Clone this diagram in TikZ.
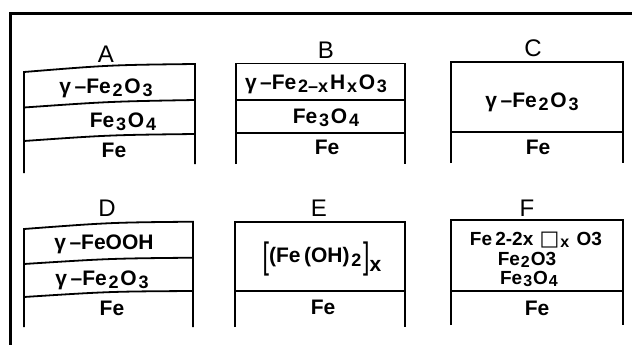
\documentclass[tikz,border=0pt]{standalone}
\usepackage{fontspec}
\setmainfont{Liberation Sans}
\newfontfamily\dejavu{DejaVu Sans}
\usepackage{graphicx}
\newcommand{\lsub}[1]{\hspace{1.8pt}\raisebox{-3.5pt}{\fontsize{18}{18}\selectfont #1}\hspace{1.8pt}}
\newcommand{\fsub}[1]{\hspace{1pt}\raisebox{-2pt}{\fontsize{16}{16}\selectfont #1}\hspace{1pt}}
\newcommand{\lbrk}[1]{\raisebox{-6pt}{\scalebox{1.1}[1.75]{\mdseries #1}}}
\tikzset{
  lab/.style={font=\fontsize{24}{24}\selectfont, inner sep=0pt},
  layer/.style={font=\bfseries\fontsize{21}{21}\selectfont, inner sep=0pt},
  flayer/.style={font=\bfseries\fontsize{19}{19}\selectfont, inner sep=0pt},
  wall/.style={line width=1.8pt},
  frame/.style={line width=2.2pt},
}
\begin{document}
\begin{tikzpicture}[x=1pt,y=-1pt]
\useasboundingbox (0,0) rectangle (632,345);
% outer frame
\coordinate (fr1) at (632,13.5);
\coordinate (fr2) at (10.5,13.5);
\coordinate (fr3) at (10.5,345);
\draw[frame] (fr1) -- (fr2) -- (fr3);

% ---- Panel A
\draw[wall] (24,173) -- (24,72) .. controls (110,65) .. (195,64) -- (195,164);
\draw[wall] (24,107.5) .. controls (110,101.5) .. (195,100);
\draw[wall] (24,141) .. controls (110,135) .. (195,134);
\node[lab] (labA) at (106,54) {A};
\node[layer] (a1) at (106,88) {γ\,–Fe\lsub{2}O\lsub{3}};
\node[layer] (a2) at (123,122) {Fe\lsub{3}O\lsub{4}};
\node[layer] (a3) at (114,150) {Fe};

% ---- Panel B
\draw[wall] (236,164) -- (236,63.5) -- (405,63.5) -- (405,164);
\draw[wall] (236,100) -- (405,100);
\draw[wall] (236,133) -- (405,133);
\node[lab] (labB) at (326,50) {B};
\node[layer] (b1) at (316,84) {γ\,–Fe\lsub{2–x}H\lsub{x}O\lsub{3}};
\node[layer] (b2) at (326,118) {Fe\lsub{3}O\lsub{4}};
\node[layer] (b3) at (327,147) {Fe};

% ---- Panel C
\draw[wall] (450.7,163) -- (450.7,62.3) -- (623,62.3) -- (623,163);
\draw[wall] (450.7,131.7) -- (623,131.7);
\node[lab] (labC) at (533,48) {C};
\node[layer] (c1) at (532,102) {γ\,–Fe\lsub{2}O\lsub{3}};
\node[layer] (c2) at (538,147) {Fe};

% ---- Panel D
\draw[wall] (24,327) -- (24,229) .. controls (110,222.5) .. (193,221.7) -- (193,327);
\draw[wall] (24,264) .. controls (110,258.5) .. (193,257.7);
\draw[wall] (24,297) .. controls (110,291.5) .. (193,291);
\node[lab] (labD) at (107,208) {D};
\node[layer] (d1) at (104,244) {γ\,–FeOOH};
\node[layer] (d2) at (102,280) {γ\,–Fe\lsub{2}O\lsub{3}};
\node[layer] (d3) at (112,308) {Fe};

% ---- Panel E
\draw[wall] (235,327) -- (235,221.7) -- (405,221.7) -- (405,327);
\draw[wall] (235,291) -- (405,291);
\node[lab] (labE) at (319,208) {E};
\node[layer] (e1) at (322,259) {\lbrk{[}(Fe\,(OH)\lsub{2}\lbrk{]}\raisebox{-9pt}{x}};
\node[layer] (e2) at (323,307) {Fe};

% ---- Panel F
\draw[wall] (450.7,325) -- (450.7,220) -- (623,220) -- (623,325);
\draw[wall] (450.7,291) -- (623,291);
\node[lab] (labF) at (527,208) {F};
\node[flayer] (f1) at (536,240) {Fe\,2-2x\,\,\scalebox{1.1}{\dejavu □}\fsub{x}\,\,O3};
\node[flayer] (f2) at (527,259.5) {Fe\fsub{2}O3};
\node[flayer] (f3) at (529,278.5) {Fe\fsub{3}O\fsub{4}};
\node[layer] (f4) at (537,308) {Fe};
\end{tikzpicture}
\end{document}
